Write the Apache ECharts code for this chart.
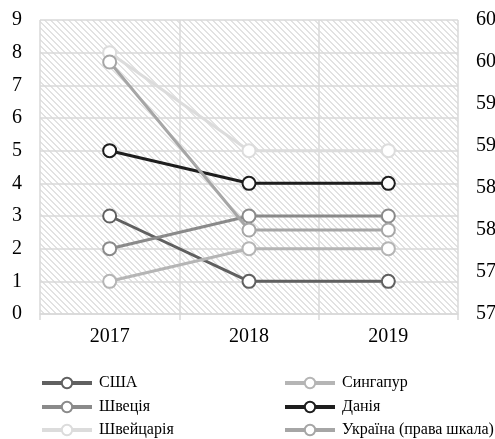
<!DOCTYPE html>
<html>
<head>
<meta charset="utf-8">
<script src="https://cdn.jsdelivr.net/npm/echarts@6/dist/echarts.min.js"></script>
<style>
  html, body { margin: 0; padding: 0; background: #fff; }
  #chart { width: 495px; height: 439px; }
</style>
</head>
<body>
<div id="chart"></div>
<script>
// data
const years = ['2017', '2018', '2019'];
const usa = [3, 1, 1];
const singapore = [1, 2, 2];
const sweden = [2, 3, 3];
const denmark = [5, 4, 4];
const switzerland = [8, 5, 5];
const ukraine = [60, 58, 58];

// hatched background of the plot area
function hatch() {
  const p = 6;
  const c = document.createElement('canvas');
  c.width = p; c.height = p;
  const ctx = c.getContext('2d');
  ctx.fillStyle = '#fff';
  ctx.fillRect(0, 0, p, p);
  ctx.fillStyle = '#e2e2e2';
  for (let y = 0; y < p; y++) {
    for (let x = 0; x < p; x++) {
      if (((x - y) % p + p) % p < 2) ctx.fillRect(x, y, 1, 1);
    }
  }
  return c;
}

const font = 'Liberation Serif';
const gridColor = '#d9d9d9';

function line(name, data, color, yIdx) {
  return {
    name: name,
    type: 'line',
    yAxisIndex: yIdx || 0,
    data: data,
    symbol: 'emptyCircle',
    symbolSize: 13,
    lineStyle: { color: color, width: 3 },
    itemStyle: { color: color, borderWidth: 3 },
    emphasis: { disabled: true },
    animation: false
  };
}

// one legend per entry, laid out in two columns like the original
function legendItem(name, left, top) {
  return {
    data: [name], left: left, top: top, padding: 0,
    itemWidth: 50, itemHeight: 13,
    lineStyle: { width: 4 },
    textStyle: { fontFamily: font, fontSize: 16, color: '#000', padding: [0, 0, 0, 2] }
  };
}

const chart = echarts.init(document.getElementById('chart'));
const option = {
  animation: false,
  textStyle: { fontFamily: font },
  grid: {
    left: 40, right: 37, top: 20, bottom: 125,
    containLabel: false,
    outerBoundsMode: 'none',
    show: true,
    borderWidth: 0,
    backgroundColor: { image: hatch(), repeat: 'repeat' }
  },
  legend: [
    legendItem('США', 40, 375),
    legendItem('Сингапур', 283, 375),
    legendItem('Швеція', 40, 399),
    legendItem('Данія', 283, 399),
    legendItem('Швейцарія', 40, 422),
    legendItem('Україна (права шкала)', 283, 422)
  ],
  xAxis: {
    type: 'category',
    data: years,
    boundaryGap: true,
    axisLine: { lineStyle: { color: gridColor, width: 1.5 } },
    axisTick: { show: true, length: 6, lineStyle: { color: gridColor, width: 1.5 } },
    splitLine: { show: true, lineStyle: { color: gridColor, width: 1.5 } },
    axisLabel: { fontFamily: font, fontSize: 20, color: '#000', margin: 13 }
  },
  yAxis: [
    {
      type: 'value', min: 0, max: 9, interval: 1,
      axisLine: { show: false },
      axisTick: { show: false },
      splitLine: { lineStyle: { color: gridColor, width: 1.5 } },
      axisLabel: { fontFamily: font, fontSize: 20, color: '#000', margin: 18 }
    },
    {
      type: 'value', min: 57, max: 60.5, interval: 0.5,
      axisLine: { show: false },
      axisTick: { show: false },
      splitLine: { show: false },
      axisLabel: {
        fontFamily: font, fontSize: 20, color: '#000', margin: 18,
        formatter: v => String(v).replace('.', ',')
      }
    }
  ],
  series: [
    line('США', usa, '#606060'),
    line('Сингапур', singapore, '#b5b5b5'),
    line('Швеція', sweden, '#8a8a8a'),
    line('Данія', denmark, '#1e1e1e'),
    line('Швейцарія', switzerland, '#dcdcdc'),
    line('Україна (права шкала)', ukraine, '#a6a6a6', 1)
  ]
};
chart.setOption(option);
</script>
</body>
</html>
